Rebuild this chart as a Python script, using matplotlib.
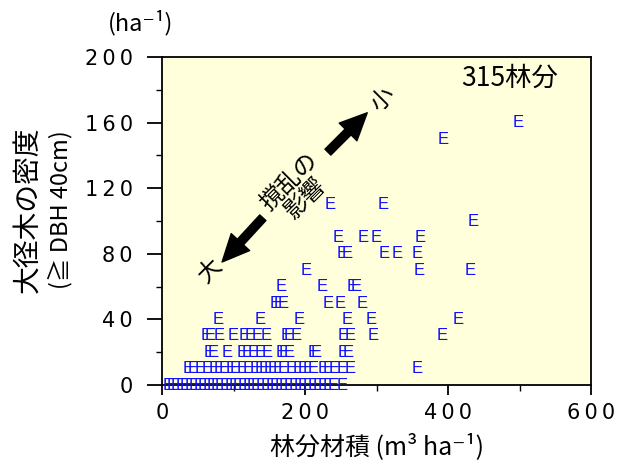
import matplotlib
matplotlib.use("Agg")
import matplotlib.pyplot as plt
from matplotlib.ticker import MultipleLocator

# stand volume (m3/ha) and density of large trees (/ha)
vol_160 = [498]
vol_150 = [393]
vol_110 = [235, 310]
vol_100 = [435]
vol_90 = [246, 281, 299, 361]
vol_80 = [252, 259, 311, 329, 357]
vol_70 = [201, 360, 431]
vol_60 = [167, 224, 266, 272]
vol_50 = [158, 164, 170, 232, 249, 280]
vol_40 = [79, 137, 192, 259, 292, 414]
vol_30 = [62, 68, 80, 100, 115, 124, 133, 145, 173, 178, 188, 253, 263, 295, 392]
vol_20 = [66, 72, 91, 112, 119, 128, 137, 147, 166, 171, 178, 211, 216, 253, 260]
vol_10 = [36, 44, 53, 63, 73, 80, 87, 97, 103, 112, 121, 130, 137, 143, 150,
          156, 162, 170, 180, 190, 197, 205, 212, 225, 233, 241, 252, 263, 357]
vol_0 = [8, 14, 20, 27, 33, 39, 45, 52, 58, 64, 70, 76, 82, 88, 95, 101, 107,
         113, 120, 126, 132, 139, 145, 152, 158, 165, 171, 178, 185, 192, 198,
         205, 212, 219, 226, 233, 240, 252]

groups = {160: vol_160, 150: vol_150, 110: vol_110, 100: vol_100, 90: vol_90,
          80: vol_80, 70: vol_70, 60: vol_60, 50: vol_50, 40: vol_40,
          30: vol_30, 20: vol_20, 10: vol_10, 0: vol_0}

xticks = [0, 200, 400, 600]
yticks = [0, 40, 80, 120, 160, 200]

jp = ["Noto Sans CJK JP", "DejaVu Sans"]
sp = "\u2009"

fig = plt.figure(figsize=(6.17, 4.72), dpi=100)
ax = fig.add_axes([0.2626, 0.1843, 0.6953, 0.6949])
ax.set_facecolor("#ffffdc")

for dens, vols in groups.items():
    for v in vols:
        ax.text(v, dens, "E", color="#0f0fff", fontsize=12,
                family="Liberation Sans", ha="center", va="center", clip_on=False)

ax.set_xlim(0, 600)
ax.set_ylim(0, 200)
ax.set_xticks(xticks)
ax.set_yticks(yticks)
ax.set_xticklabels([sp.join(str(t)) for t in xticks], fontsize=15, family="DejaVu Sans")
ax.set_yticklabels([sp.join(str(t)) for t in yticks], fontsize=15, family="DejaVu Sans")
ax.xaxis.set_minor_locator(MultipleLocator(100))
ax.yaxis.set_minor_locator(MultipleLocator(20))
ax.tick_params(axis="y", which="major", direction="out", length=11, width=1.3, pad=10)
ax.tick_params(axis="x", which="major", direction="out", length=7, width=1.3, pad=6)
ax.tick_params(which="minor", direction="out", length=4, width=1.0)
for s in ax.spines.values():
    s.set_linewidth(1.3)

ax.set_xlabel("林分材積 (m³ ha⁻¹)", fontsize=18, family=jp, labelpad=7)
fig.text(0.046, 0.555, "大径木の密度", rotation=90, fontsize=20, family=jp,
         ha="center", va="center")
fig.text(0.098, 0.555, "(≧ DBH 40cm)", rotation=90, fontsize=17, family=jp,
         ha="center", va="center")
fig.text(0.228, 0.953, "(ha⁻¹)", fontsize=17, family=jp, ha="center", va="center")

ax.text(0.811, 0.936, "315林分", transform=ax.transAxes, fontsize=19,
        family=jp, ha="center", va="center")

# disturbance arrows
arrow = dict(arrowstyle="simple,tail_width=0.4,head_width=1.2,head_length=1.3",
             color="black", mutation_scale=15, shrinkA=0, shrinkB=0)
ax.annotate("", xy=(84, 75), xytext=(141, 102), arrowprops=arrow)
ax.annotate("", xy=(287, 166), xytext=(232, 142), arrowprops=arrow)
ax.text(189, 119, "撹乱の\n影響", rotation=45, fontsize=17, family=jp,
        ha="center", va="center", multialignment="center", linespacing=1.0)
ax.text(67, 70, "大", rotation=45, fontsize=17, family=jp, ha="center", va="center")
ax.text(309, 174, "小", rotation=45, fontsize=17, family=jp, ha="center", va="center")

fig.savefig("out.png", dpi=100)
